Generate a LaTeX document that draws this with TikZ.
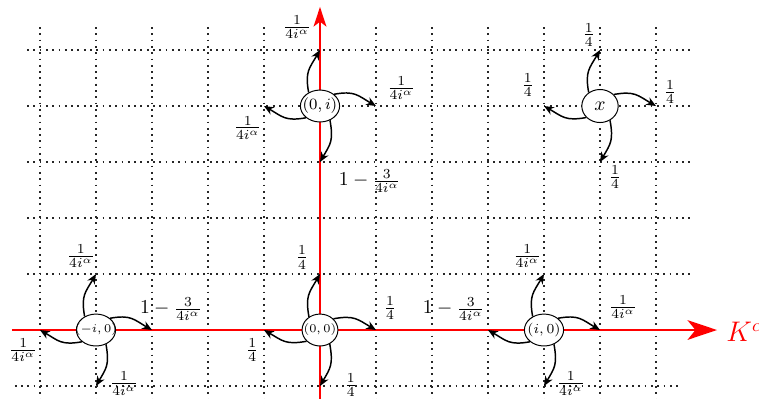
\documentclass[tikz,border=0pt]{standalone}
\usetikzlibrary{shapes.geometric,arrows.meta}
\begin{document}
\begin{tikzpicture}[
  gridline/.style={line width=0.9pt, dash pattern=on 0.9pt off 2.3pt, black!85},
  axis/.style={red, line width=1pt},
  site/.style={draw, ellipse, fill=white, line width=0.5pt, minimum width=0.68cm, minimum height=0.57cm, inner sep=0pt},
  hop/.style={-{Stealth[length=5pt,width=4.2pt]}, line width=0.75pt, looseness=1.25},
  lab/.style={inner sep=0pt}
]
\useasboundingbox (-5.714,-1.214) rectangle (7.839,5.893);
% grid
\foreach \y in {0,...,5} \draw[gridline] (-5.23,\y) -- (6.66,\y);
\draw[gridline] (-5.45,-1) -- (6.43,-1);
\foreach \x in {-5,...,6} \draw[gridline] (\x,5.41) -- (\x,-1.3);
% axes
\coordinate (xs) at (-5.5,0);
\coordinate (xe) at (7.09,0);
\coordinate (ys) at (0,-1.3);
\coordinate (ye) at (0,5.77);
\draw[axis, -{Stealth[length=15pt,width=10pt,inset=4pt]}] (xs) -- (xe);
\draw[axis, -{Stealth[length=10pt,width=6.5pt,inset=2.5pt]}] (ys) -- (ye);
\node[anchor=west, text=red, inner sep=0pt, font=\fontsize{13.5}{16}\selectfont] (K) at (7.25,-0.03) {$K^\alpha$};
% sites
\node[site, minimum width=0.7cm, font=\fontsize{6.2}{7}\selectfont] (m) at (-4,0) {\makebox[0pt]{$(-i,0)$}};
\node[site, minimum width=0.64cm, font=\fontsize{6.1}{7}\selectfont] (o) at (0,0) {\makebox[0pt]{$(0,0)$}};
\node[site, minimum width=0.7cm, font=\fontsize{7}{8}\selectfont] (p) at (4,0) {\makebox[0pt]{$(i,0)$}};
\node[site, minimum width=0.7cm, font=\fontsize{8}{9}\selectfont] (q) at (0,4) {\makebox[0pt]{$(0,i)$}};
\node[site, minimum width=0.65cm, minimum height=0.59cm, font=\fontsize{10}{12}\selectfont] (r) at (5,4) {\makebox[0pt]{$x$}};
% hops
\newcommand\hops[3]{%
  \coordinate (#1u) at (#2,#3+1);
  \coordinate (#1r) at (#2+1,#3);
  \coordinate (#1d) at (#2,#3-1);
  \coordinate (#1l) at (#2-1,#3);
  \draw[hop] (#1.130) to[out=100,in=-120] (#1u);
  \draw[hop] (#1.40) to[out=10,in=150] (#1r);
  \draw[hop] (#1.-55) to[out=-80,in=60] (#1d);
  \draw[hop] (#1.220) to[out=190,in=-30] (#1l);
}
\hops{m}{-4}{0}
\hops{o}{0}{0}
\hops{p}{4}{0}
\hops{q}{0}{4}
\hops{r}{5}{4}
% labels
\node[lab] (m1) at (-4.27,1.32) {$\frac{1}{4i^\alpha}$};
\node[lab] (m2) at (-2.66,0.375) {$1-\frac{3}{4i^\alpha}$};
\node[lab] (m3) at (-5.30,-0.36) {$\frac{1}{4i^\alpha}$};
\node[lab] (m4) at (-3.5,-0.96) {$\frac{1}{4i^\alpha}$};
\node[lab] (o1) at (-0.32,1.29) {$\frac{1}{4}$};
\node[lab] (o2) at (1.25,0.39) {$\frac{1}{4}$};
\node[lab] (o3) at (-1.21,-0.36) {$\frac{1}{4}$};
\node[lab] (o4) at (0.55,-0.98) {$\frac{1}{4}$};
\node[lab] (p1) at (3.70,1.32) {$\frac{1}{4i^\alpha}$};
\node[lab] (p2) at (5.41,0.41) {$\frac{1}{4i^\alpha}$};
\node[lab] (p3) at (2.39,0.375) {$1-\frac{3}{4i^\alpha}$};
\node[lab] (p4) at (4.48,-0.96) {$\frac{1}{4i^\alpha}$};
\node[lab] (q1) at (-0.41,5.41) {$\frac{1}{4i^\alpha}$};
\node[lab] (q2) at (1.45,4.32) {$\frac{1}{4i^\alpha}$};
\node[lab] (q3) at (-1.29,3.61) {$\frac{1}{4i^\alpha}$};
\node[lab] (q4) at (0.89,2.66) {$1-\frac{3}{4i^\alpha}$};
\node[lab] (r1) at (4.80,5.27) {$\frac{1}{4}$};
\node[lab] (r2) at (6.25,4.25) {$\frac{1}{4}$};
\node[lab] (r3) at (3.71,4.375) {$\frac{1}{4}$};
\node[lab] (r4) at (5.27,2.73) {$\frac{1}{4}$};
\end{tikzpicture}
\end{document}
